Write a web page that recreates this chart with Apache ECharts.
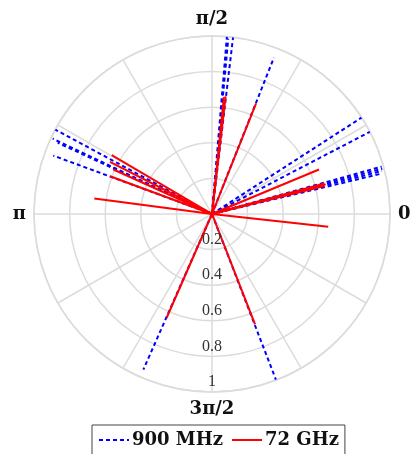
<!DOCTYPE html>
<html><head><meta charset="utf-8">
<script src="https://cdn.jsdelivr.net/npm/echarts@6/dist/echarts.min.js"></script>
<style>html,body{margin:0;padding:0;background:#fff}#c{width:412px;height:454px}</style>
</head><body><div id="c"></div><script>
// angles in degrees (0 = east, counter-clockwise), radii normalised 0..1
const blueAngles = [85.2, 84.7, 83.2, 68.4, 32.8, 27.5, 15.6, 14.9, 14.2, 13.4, 151.7, 154.7, 155.2, 159.8, 246.2, 291.1];
const blueRadii  = [1.0, 0.99, 1.0, 0.945, 1.0, 1.0, 0.99, 0.99, 0.985, 0.98, 1.0, 0.99, 0.955, 0.95, 0.955, 0.997];
const redAngles  = [84.2, 83.4, 68.3, 22.6, 15.2, 14.6, 14.0, 353.7, 149.6, 152.9, 155.7, 159.7, 172.5, 246.4, 291.3];
const redRadii   = [0.66, 0.665, 0.668, 0.651, 0.655, 0.66, 0.65, 0.657, 0.653, 0.644, 0.608, 0.611, 0.667, 0.636, 0.666];
const radialTicks = [0.2, 0.4, 0.6, 0.8, 1];
const angleLabels = {0: '0', 90: 'π/2', 180: 'π', 270: '3π/2'};
const seriesNames = ['900 MHz', '72 GHz'];

const chart = echarts.init(document.getElementById('c'), null, {renderer: 'canvas'});
const grey = '#dcdcdc';
const center = [212, 214], R = 178;

function makeSeries(angles, radii, name, color, dash) {
  return angles.map((a, i) => ({
    type: 'line', name: name, coordinateSystem: 'polar', polarIndex: 0,
    data: [[0, a], [radii[i], a]], symbol: 'none', symbolSize: 0, silent: true, animation: false,
    lineStyle: {color: color, width: 2, type: dash},
    itemStyle: {color: color}
  }));
}

const series = [].concat(
  makeSeries(blueAngles, blueRadii, seriesNames[0], '#0000ff', [4, 3]),
  makeSeries(redAngles, redRadii, seriesNames[1], '#ff0000', 'solid')
);

chart.setOption({
  animation: false,
  backgroundColor: '#fff',
  polar: [{center: center, radius: R}, {center: center, radius: R}],
  angleAxis: [{
    polarIndex: 0, type: 'value', min: 0, max: 360, interval: 30, startAngle: 0, clockwise: false,
    axisLine: {show: true, lineStyle: {color: grey, width: 1.5}},
    axisTick: {show: false},
    splitLine: {show: true, lineStyle: {color: grey, width: 1.5}},
    axisLabel: {
      show: true, margin: 8,
      formatter: v => (angleLabels[v] !== undefined && v !== 360) ? angleLabels[v] : '',
      fontFamily: 'DejaVu Serif', fontWeight: 'bold', fontSize: 18, color: '#111'
    }
  }, {
    polarIndex: 1, type: 'value', min: 0, max: 360, startAngle: 270, clockwise: false,
    axisLine: {show: false}, axisTick: {show: false}, splitLine: {show: false}, axisLabel: {show: false}
  }],
  radiusAxis: [{
    polarIndex: 0, type: 'value', min: 0, max: 1, interval: 0.2,
    axisLine: {show: false}, axisTick: {show: false}, axisLabel: {show: false},
    splitLine: {show: true, lineStyle: {color: grey, width: 1.5}}
  }, {
    polarIndex: 1, type: 'value', min: 0, max: 1, interval: 0.2, z: 10,
    axisLine: {show: false}, axisTick: {show: false}, splitLine: {show: false},
    axisLabel: {
      show: true, margin: 0, align: 'center', verticalAlign: 'bottom', padding: [0, 0, 2, 0],
      formatter: v => radialTicks.some(t => Math.abs(t - v) < 1e-9) ? String(+v.toFixed(1)) : '',
      fontFamily: 'Liberation Serif', fontSize: 16, color: '#333'
    }
  }],
  legend: {
    data: seriesNames, left: 92, top: 425, orient: 'horizontal',
    itemWidth: 30, itemHeight: 14, itemGap: 8,
    padding: [6, 6, 10, 6],
    itemStyle: {opacity: 0},
    borderColor: '#444', borderWidth: 1, backgroundColor: '#fff',
    textStyle: {fontFamily: 'DejaVu Serif', fontWeight: 'bold', fontSize: 18, color: '#111', padding: [0, 0, 0, -2]}
  },
  series: series
});
</script></body></html>
